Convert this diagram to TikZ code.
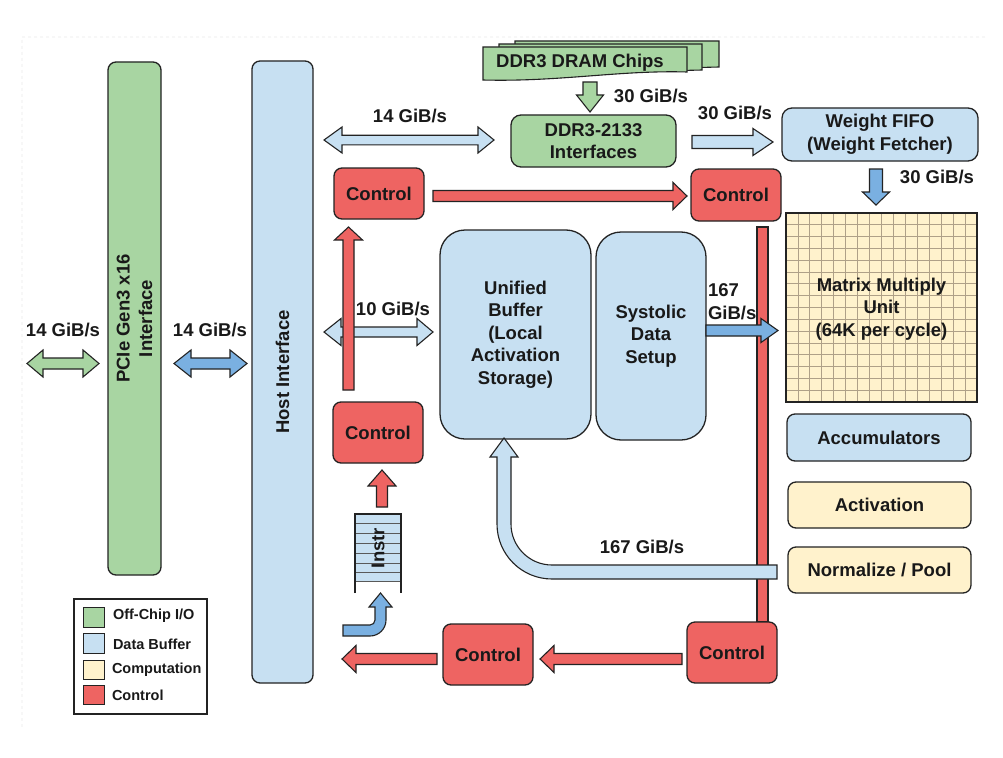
\documentclass[tikz,border=0pt]{standalone}
\usepackage{fontspec}
\setmainfont{Liberation Sans}
\definecolor{cgreen}{RGB}{168,213,162}
\definecolor{cblue}{RGB}{199,224,242}
\definecolor{cdblue}{RGB}{122,176,225}
\definecolor{cred}{RGB}{238,100,98}
\definecolor{cyel}{RGB}{255,242,204}
\definecolor{cline}{RGB}{35,35,35}
\definecolor{cgrid}{RGB}{175,160,135}
\tikzset{
  every node/.style={inner sep=0pt, outer sep=0pt},
  blk/.style={draw=cline, line width=1.3pt, rounded corners=8pt},
  txt/.style={font=\bfseries\fontsize{18.5}{22.5}\selectfont, align=center, text=black!90},
  lgd/.style={font=\bfseries\fontsize{14.5}{17}\selectfont, text=black!90},
  arr/.style={draw=cline, line width=1.1pt, line join=miter},
  gbox/.style={blk, fill=cgreen},
  bbox/.style={blk, fill=cblue},
  rbox/.style={blk, fill=cred},
  ybox/.style={blk, fill=cyel},
}
% horizontal arrow: style, xstart, xbase, xtip, y, shaft half, head half
\newcommand\harr[7]{\filldraw[arr,#1] (#2,#5-#6) -- (#3,#5-#6) -- (#3,#5-#7) -- (#4,#5) -- (#3,#5+#7) -- (#3,#5+#6) -- (#2,#5+#6) -- cycle;}
% vertical arrow: style, ystart, ybase, ytip, x, shaft half, head half
\newcommand\varr[7]{\filldraw[arr,#1] (#5-#6,#2) -- (#5-#6,#3) -- (#5-#7,#3) -- (#5,#4) -- (#5+#7,#3) -- (#5+#6,#3) -- (#5+#6,#2) -- cycle;}
% double horizontal arrow: style, left tip, left base, right base, right tip, y, shaft half, head half
\newcommand\dharr[8]{\filldraw[arr,#1] (#2,#6) -- (#3,#6-#8) -- (#3,#6-#7) -- (#4,#6-#7) -- (#4,#6-#8) -- (#5,#6) -- (#4,#6+#8) -- (#4,#6+#7) -- (#3,#6+#7) -- (#3,#6+#8) -- cycle;}
\begin{document}
\begin{tikzpicture}[x=1pt,y=-1pt]
\useasboundingbox (0,0) rectangle (1003,757);
\fill[white] (0,0) rectangle (1003,757);
\draw[gray!6, dashed, line width=1.5pt] (985,37) -- (22,37) -- (22,727);

% ---- big blocks
\node[gbox, minimum width=53pt, minimum height=513pt] (pcie) at (134.5,318.5) {};
\node[txt, rotate=90] (pcietxt) at (pcie.center) {PCIe Gen3 x16\\Interface};
\node[bbox, minimum width=61pt, minimum height=622pt] (host) at (282.5,372) {};
\node[txt, rotate=90] (hosttxt) at (host.center) {Host Interface};

% ---- DRAM chips (stacked)
\filldraw[arr, fill=cgreen] (515,41) -- (719,41) -- (719,67) -- (640,69) -- (515,70) -- cycle;
\filldraw[arr, fill=cgreen] (499,44) -- (702,44) -- (702,70) -- (620,72) -- (499,74) -- cycle;
\filldraw[arr, fill=cgreen] (483,47) -- (687,47) -- (687,72) .. controls (620,70) and (560,82) .. (483,80) -- cycle;
\node[txt] (dram) at (580,63) {DDR3 DRAM Chips};

\node[gbox, rounded corners=10pt, minimum width=165pt, minimum height=52pt] (ddr) at (593.5,141) {};
\node[txt] (ddrtxt) at (ddr.center) {DDR3-2133\\Interfaces};
\node[bbox, rounded corners=10pt, minimum width=196pt, minimum height=53pt] (wfifo) at (880,134.5) {};
\node[txt] (wfifotxt) at (wfifo.center) {Weight FIFO\\(Weight Fetcher)};

% ---- MMU
\node[draw=cline, line width=1.3pt, fill=cyel, minimum width=191pt, minimum height=189pt] (mmu) at (881.5,307.5) {};
\foreach \k in {1,...,15}{
  \draw[cgrid, line width=0.8pt] ({786+\k*11.9375},214) -- ({786+\k*11.9375},401);
  \draw[cgrid, line width=0.8pt] (787,{213+\k*11.8125}) -- (976,{213+\k*11.8125});
}
\draw[cline, line width=1.3pt] (786,213) rectangle (977,402);
\node[txt] (mmutxt) at (881.5,309) {Matrix Multiply\\Unit\\(64K per cycle)};

\node[bbox, minimum width=184pt, minimum height=47pt] (acc) at (879,437.5) {};
\node[txt] (acctxt) at (acc.center) {Accumulators};
\node[ybox, minimum width=183pt, minimum height=46pt] (act) at (879.5,505) {};
\node[txt] (acttxt) at (act.center) {Activation};
\node[ybox, minimum width=183pt, minimum height=46pt] (norm) at (879.5,570) {};
\node[txt] (normtxt) at (norm.center) {Normalize / Pool};

% ---- buffers
\node[bbox, rounded corners=25pt, minimum width=151pt, minimum height=209pt] (ub) at (515.5,334.5) {};
\node[txt] (ubtxt) at (ub.center) {Unified\\Buffer\\(Local\\Activation\\Storage)};
\node[bbox, rounded corners=25pt, minimum width=110pt, minimum height=208pt] (sds) at (651,336) {};
\node[txt] (sdstxt) at (sds.center) {Systolic\\Data\\Setup};

% ---- red vertical bar (control B to control D)
\filldraw[arr, fill=cred] (757,227) rectangle (768,622);

% ---- controls
\node[rbox, minimum width=90pt, minimum height=51pt] (ctlA) at (379,193.5) {};
\node[txt] at (ctlA.center) {Control};
\node[rbox, minimum width=90pt, minimum height=52pt] (ctlB) at (736,195) {};
\node[txt] at (ctlB.center) {Control};
\node[rbox, minimum width=90pt, minimum height=61pt] (ctlC) at (378,432.5) {};
\node[txt] at (ctlC.center) {Control};
\node[rbox, minimum width=90pt, minimum height=61pt] (ctlD) at (732,652.5) {};
\node[txt] at (ctlD.center) {Control};
\node[rbox, minimum width=90pt, minimum height=61pt] (ctlE) at (488,654.5) {};
\node[txt] at (ctlE.center) {Control};

% ---- Instr queue
\node[fill=cblue, minimum width=46pt, minimum height=68pt] (instr) at (378,548) {};
\foreach \yy in {523.5,533,543,553,563,572.5,581.5}
  \draw[gray!70!black, line width=0.8pt] (355,\yy) -- (401,\yy);
\draw[cline, line width=1.3pt] (355,593) -- (355,514) -- (401,514) -- (401,593);
\node[txt, rotate=90] (instrtxt) at (instr.center) {Instr};

% ---- arrows
\dharr{fill=cgreen}{27}{43}{83}{99}{363.5}{5.5}{13.5}
\dharr{fill=cdblue}{174}{191}{230}{247}{363.5}{5.5}{13.5}
\dharr{fill=cblue}{324}{342}{478}{494}{140}{4.8}{13}
\dharr{fill=cblue}{324}{341}{417}{433}{332}{5}{13.5}
\varr{fill=cred}{390}{240}{227}{348.5}{5.5}{14}
\harr{fill=cred}{433}{673}{687}{196}{5.5}{13.5}
\varr{fill=cred}{507}{486}{470}{382}{5.5}{14}
\harr{fill=cred}{682}{554}{540}{659}{5.5}{13.5}
\harr{fill=cred}{437}{356}{342}{659}{5.5}{13.5}
\varr{fill=cgreen}{82}{95}{112}{590}{7}{13.5}
\harr{fill=cblue}{692}{753}{773}{142}{6.5}{13.5}
\varr{fill=cdblue}{169}{192}{205}{876}{6.5}{13.5}
\harr{fill=cdblue}{706}{761}{778}{330.5}{5.5}{12}

% big curved return arrow (Normalize/Pool -> Unified Buffer)
\filldraw[arr, fill=cblue] (777,565) -- (552,565) .. controls (529.4,565) and (511,546.6) .. (511,524)
  -- (511,457) -- (518,457) -- (504,438) -- (490,457) -- (497,457) -- (497,524)
  .. controls (497,554.4) and (521.6,579) .. (552,579) -- (777,579) -- cycle;

% small curved arrow into Instr
\filldraw[arr, fill=cdblue] (343,625) -- (370,625) .. controls (372.8,625) and (375,622.8) .. (375,620)
  -- (375,607) -- (369,607) -- (380.5,593) -- (392,607) -- (386,607) -- (386,620)
  .. controls (386,628.8) and (378.8,636) .. (370,636) -- (343,636) -- cycle;

% ---- labels
\node[txt] (l1) at (63,330) {14 GiB/s};
\node[txt] (l2) at (210,330) {14 GiB/s};
\node[txt] (l3) at (410,116) {14 GiB/s};
\node[txt] (l4) at (393,309) {10 GiB/s};
\node[txt] (l5) at (651,96) {30 GiB/s};
\node[txt] (l6) at (735,113) {30 GiB/s};
\node[txt] (l7) at (937,177) {30 GiB/s};
\node[txt, align=left, anchor=west] (l8) at (708,301.5) {167\\GiB/s};
\node[txt] (l9) at (642,547) {167 GiB/s};

% ---- legend
\node[draw=cline, line width=1.2pt, fill=white, minimum width=133pt, minimum height=115pt] (legend) at (140.5,656.5) {};
\filldraw[draw=cline, line width=1pt, fill=cgreen] (83,607) rectangle (104,627);
\filldraw[draw=cline, line width=1pt, fill=cblue] (83,633) rectangle (104,653);
\filldraw[draw=cline, line width=1pt, fill=cyel] (83,660) rectangle (104,679);
\filldraw[draw=cline, line width=1pt, fill=cred] (83,685) rectangle (104,704);
\node[lgd, anchor=west] (lg1) at (113,616) {Off-Chip I/O};
\node[lgd, anchor=west] (lg2) at (113,644) {Data Buffer};
\node[lgd, anchor=west] (lg3) at (112,670) {Computation};
\node[lgd, anchor=west] (lg4) at (112,695) {Control};
\end{tikzpicture}
\end{document}
